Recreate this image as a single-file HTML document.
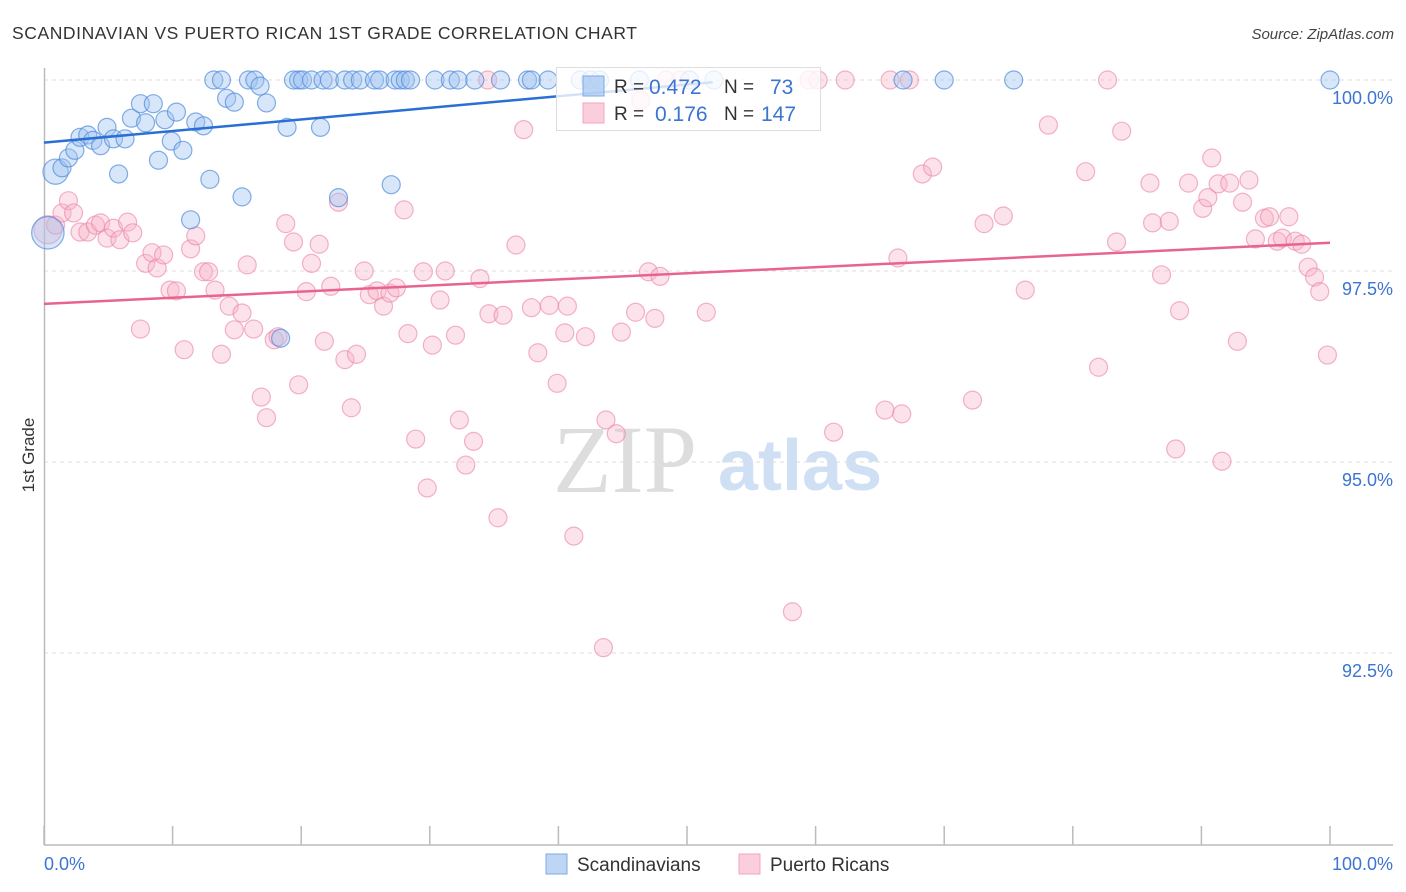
<!DOCTYPE html>
<html><head><meta charset="utf-8"><style>
body{margin:0;background:#fff;font-family:"Liberation Sans",sans-serif;}
#wrap{position:relative;width:1406px;height:892px;overflow:hidden;}
</style></head><body>
<div id="wrap">
<svg id="svg" width="1406" height="892" xmlns="http://www.w3.org/2000/svg">
<text x="12" y="39" font-size="17.5" fill="#333" textLength="625" lengthAdjust="spacing" font-family="Liberation Sans, sans-serif">SCANDINAVIAN VS PUERTO RICAN 1ST GRADE CORRELATION CHART</text>
<text x="1394" y="39" font-size="15" fill="#444" font-style="italic" text-anchor="end">Source: ZipAtlas.com</text>
<text x="34" y="455" font-size="17" fill="#333" text-anchor="middle" transform="rotate(-90 34 455)">1st Grade</text>
<text x="553" y="492" font-size="96" fill="#ddd" font-family="Liberation Serif, serif">ZIP</text>
<text x="718" y="490" font-size="72" fill="#cfe0f5" font-weight="bold">atlas</text>
<g id="grid"></g><g id="axes"></g><g id="pts"></g><g id="lines"></g>
<g>
<rect x="556.5" y="67.5" width="264" height="63" fill="rgba(255,255,255,0.8)" stroke="#ddd"/>
<rect x="583" y="76" width="21" height="20" fill="rgba(160,196,240,0.7)" stroke="#7fa9e3"/>
<text x="614" y="93" font-size="19" fill="#333">R =</text>
<text x="649" y="94" font-size="21" fill="#3b74d1">0.472</text>
<text x="724" y="93" font-size="19" fill="#333">N =</text>
<text x="770" y="94" font-size="21" fill="#3b74d1">73</text>
<rect x="583" y="103" width="21" height="20" fill="rgba(248,185,205,0.7)" stroke="#f0a5bd"/>
<text x="614" y="120" font-size="19" fill="#333">R =</text>
<text x="655" y="121" font-size="21" fill="#3b74d1">0.176</text>
<text x="724" y="120" font-size="19" fill="#333">N =</text>
<text x="761" y="121" font-size="21" fill="#3b74d1">147</text>
</g>
<g>
<rect x="546" y="854" width="21" height="20" fill="rgba(160,196,240,0.7)" stroke="#7fa9e3"/>
<text x="577" y="871" font-size="19" fill="#333">Scandinavians</text>
<rect x="739" y="854" width="21" height="20" fill="rgba(248,185,205,0.7)" stroke="#f0a5bd"/>
<text x="770" y="871" font-size="19" fill="#333">Puerto Ricans</text>
</g>
</svg>
</div>
<script>
const yTicks=[100,97.5,95,92.5];
const yTickLabels=["100.0%","97.5%","95.0%","92.5%"];
const xTickVals=[0,10,20,30,40,50,60,70,80,90,100];
const blueX=[0.9,1.4,1.9,2.4,2.8,3.4,3.8,4.4,4.9,5.4,5.8,6.3,6.8,7.5,7.9,8.5,8.9,9.4,9.9,10.3,10.8,11.8,12.4,12.9,13.2,13.8,14.2,14.8,15.4,15.9,16.4,16.8,17.3,18.9,19.4,19.8,20.1,20.8,21.5,21.7,22.2,22.9,23.4,24.0,24.6,25.7,26.1,27.0,27.3,27.7,28.1,28.5,30.4,31.6,32.2,33.5,35.5,37.6,37.9,39.2,41.7,42.5,43.2,46.3,50.2,52.1,66.8,70.0,75.4,100,11.4,18.4,0.3];
const blueY=[98.80,98.85,98.98,99.08,99.25,99.28,99.21,99.14,99.38,99.23,98.77,99.23,99.50,99.69,99.44,99.69,98.95,99.48,99.20,99.58,99.08,99.45,99.40,98.70,100,100,99.76,99.71,98.47,100,100,99.92,99.70,99.38,100,100,100,100,99.38,100,100,98.46,100,100,100,100,100,98.63,100,100,100,100,100,100,100,100,100,100,100,100,100,100,100,100,100,100,100,100,100,100,98.17,96.62,98.0];
const blueSize=[1.4,1,1,1,1,1,1,1,1,1,1,1,1,1,1,1,1,1,1,1,1,1,1,1,1,1,1,1,1,1,1,1,1,1,1,1,1,1,1,1,1,1,1,1,1,1,1,1,1,1,1,1,1,1,1,1,1,1,1,1,1,1,1,1,1,1,1,1,1,1,1,1,1.8];
const pinkX=[0.3,0.9,1.4,1.9,2.3,2.8,3.4,4.0,4.4,4.9,5.4,5.9,6.5,6.9,7.5,7.9,8.4,8.8,9.3,9.8,10.3,10.9,11.4,11.8,12.4,12.8,13.3,13.8,14.4,14.8,15.4,15.8,16.3,16.9,17.3,17.9,18.2,18.8,19.4,19.8,20.4,20.8,21.4,21.8,22.3,22.9,23.4,23.9,24.3,24.9,25.3,25.9,26.4,26.9,27.4,28.0,28.3,28.9,29.5,29.8,30.2,30.8,31.2,32.0,32.3,32.8,33.4,33.9,34.6,35.3,35.7,36.7,37.3,37.9,38.4,39.3,39.9,40.5,40.7,41.2,42.1,43.5,43.7,44.5,44.9,46.0,46.4,47.0,47.5,47.9,51.5,58.2,59.5,60.2,62.3,61.4,65.4,65.8,66.4,66.7,67.3,68.3,69.1,72.2,73.1,74.6,76.3,78.1,81.0,82.0,82.7,83.4,83.8,86.0,86.2,86.9,87.5,88.0,88.3,89.0,90.1,90.5,90.8,91.3,91.6,92.2,92.8,93.2,93.7,94.2,94.9,95.3,95.9,96.3,96.8,97.3,97.8,98.3,98.8,99.2,99.8,34.5,48.4,49.5];
const pinkY=[98.04,98.10,98.26,98.42,98.26,98.01,98.01,98.10,98.13,97.93,98.06,97.91,98.14,98.00,96.74,97.60,97.74,97.54,97.71,97.25,97.24,96.47,97.79,97.96,97.49,97.49,97.25,96.41,97.04,96.73,96.95,97.58,96.74,95.85,95.58,96.60,96.64,98.12,97.88,96.01,97.23,97.60,97.85,96.58,97.30,98.40,96.34,95.71,96.41,97.50,97.19,97.24,97.04,97.21,97.28,98.30,96.68,95.30,97.49,94.66,96.53,97.12,97.50,96.66,95.55,94.96,95.27,97.40,96.94,94.27,96.92,97.84,99.35,97.02,96.43,97.05,96.03,96.69,97.04,94.03,96.64,92.57,95.55,95.37,96.70,96.96,99.73,97.49,96.88,97.43,96.96,93.04,100,100,100,95.39,95.68,100,97.67,95.63,100,98.77,98.86,95.81,98.12,98.22,97.25,99.41,98.80,96.24,100,97.88,99.33,98.65,98.13,97.45,98.15,95.17,96.98,98.65,98.32,98.46,98.98,98.64,95.01,98.65,96.58,98.40,98.69,97.92,98.19,98.21,97.89,97.93,98.21,97.89,97.85,97.55,97.42,97.23,96.40,100,100,100];
const blueTrendX=[0,52];
const blueTrendY=[99.18,99.97];
const pinkTrendX=[0,100];
const pinkTrendY=[97.07,97.87];

const NS="http://www.w3.org/2000/svg";
const X0=44,X1=1330,YT=80,PXPER=76.4;
const sx=v=>X0+(X1-X0)*v/100;
const sy=v=>YT+(100-v)*PXPER;
function mk(tag,attrs,parent){const e=document.createElementNS(NS,tag);for(const k in attrs)e.setAttribute(k,attrs[k]);document.getElementById(parent).appendChild(e);return e;}

yTicks.forEach((t,i)=>{
  const l=mk('line',{x1:44,x2:1393,y1:sy(t),y2:sy(t),stroke:'#ddd','stroke-dasharray':'4,4'},'grid');
  
  
  const tx=mk('text',{x:1393,y:sy(t)+24,'font-size':18,fill:'#3b74d1','text-anchor':'end'},'grid');
  tx.textContent=yTickLabels[i];
  
  
});
const ya=mk('line',{x1:44.5,x2:44.5,y1:68,y2:845,stroke:'#bbb','stroke-width':1.5},'axes');


const xa=mk('line',{x1:44,x2:1393,y1:845,y2:845,stroke:'#bbb','stroke-width':1.5},'axes');


xTickVals.forEach(v=>{
  const t=mk('line',{x1:sx(v),x2:sx(v),y1:826,y2:845,stroke:'#bbb','stroke-width':1.5},'axes');
  
  
});
const xl0=mk('text',{x:44,y:870,'font-size':18,fill:'#3b74d1'},'axes');xl0.textContent='0.0%';


const xl1=mk('text',{x:1393,y:870,'font-size':18,fill:'#3b74d1','text-anchor':'end'},'axes');xl1.textContent='100.0%';



pinkX.forEach((v,i)=>{
  const c=mk('circle',{cx:sx(v),cy:sy(pinkY[i]),r:i===0?14:9,fill:'rgba(248,180,200,0.38)',stroke:'rgba(235,130,165,0.6)','stroke-width':1.2},'pts');
  
  
});
blueX.forEach((v,i)=>{
  const c=mk('circle',{cx:sx(v),cy:sy(blueY[i]),r:9*blueSize[i],fill:'rgba(160,196,240,0.42)',stroke:'rgba(80,140,220,0.7)','stroke-width':1.2},'pts');
  
  
});
const bl=mk('line',{x1:sx(blueTrendX[0]),y1:sy(blueTrendY[0]),x2:sx(blueTrendX[1]),y2:sy(blueTrendY[1]),stroke:'#2a6fd6','stroke-width':2.5},'lines');


const pl=mk('line',{x1:sx(pinkTrendX[0]),y1:sy(pinkTrendY[0]),x2:sx(pinkTrendX[1]),y2:sy(pinkTrendY[1]),stroke:'#e8648e','stroke-width':2.5},'lines');


</script>
</body></html>
